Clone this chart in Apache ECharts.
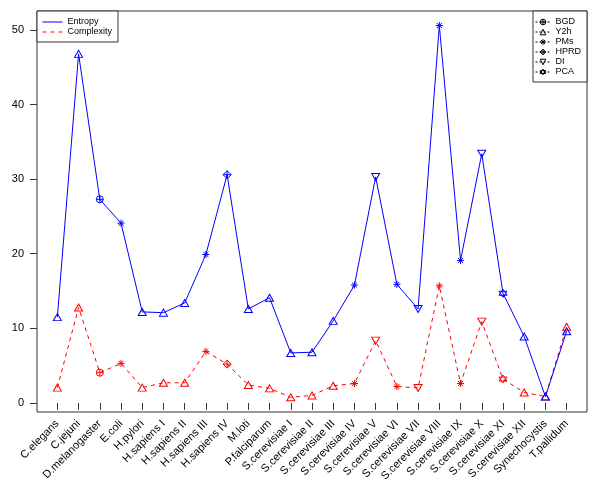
<!DOCTYPE html>
<html>
<head>
<meta charset="utf-8">
<script src="https://cdn.jsdelivr.net/npm/echarts@6/dist/echarts.min.js"></script>
<style>
html,body{margin:0;padding:0;background:#fff;}
#chart{width:600px;height:494px;}
</style>
</head>
<body>
<div id="chart"></div>
<script>
const categories = ['C.elegans','C.jejuni','D.melanogaster','E.coli','H.pylori','H.sapiens I','H.sapiens II','H.sapiens III','H.sapiens IV','M.loti','P.falciparum','S.cerevisiae I','S.cerevisiae II','S.cerevisiae III','S.cerevisiae IV','S.cerevisiae V','S.cerevisiae VI','S.cerevisiae VII','S.cerevisiae VIII','S.cerevisiae IX','S.cerevisiae X','S.cerevisiae XI','S.cerevisiae XII','Synechocystis','T.pallidum'];
const entropy = [11.5, 46.8, 27.3, 24.1, 12.2, 12.1, 13.4, 19.9, 30.6, 12.6, 14.1, 6.7, 6.8, 11.0, 15.8, 30.3, 15.9, 12.6, 50.6, 19.1, 33.4, 14.7, 8.9, 0.85, 9.6];
const complexity = [2.05, 12.8, 4.05, 5.3, 2.05, 2.7, 2.7, 6.9, 5.2, 2.4, 1.95, 0.75, 1.0, 2.3, 2.6, 8.35, 2.2, 2.0, 15.7, 2.6, 10.9, 3.2, 1.4, 0.85, 10.2];
const methods = ['Y2h','Y2h','BGD','PMs','Y2h','Y2h','Y2h','PMs','HPRD','Y2h','Y2h','Y2h','Y2h','Y2h','PMs','DI','PMs','DI','PMs','PMs','DI','PCA','Y2h','Y2h','Y2h'];
const methodNames = ['BGD','Y2h','PMs','HPRD','DI','PCA'];
const yTicks = [0, 10, 20, 30, 40, 50];

const SYM = {
  BGD: {path: 'path://M-1,0A1,1 0 1,1 1,0A1,1 0 1,1 -1,0ZM-1,0L1,0M0,-1L0,1', size: [7, 7]},
  Y2h: {path: 'path://M0,-1L0.866,0.5L-0.866,0.5Z', size: [8, 7]},
  PMs: {path: 'path://M0,-1L0,1M-1,0L1,0M-0.707,-0.707L0.707,0.707M-0.707,0.707L0.707,-0.707', size: [7, 7]},
  HPRD: {path: 'path://M0,-1L1,0L0,1L-1,0ZM-1,0L1,0M0,-1L0,1', size: [8, 8]},
  DI: {path: 'path://M0,1L0.866,-0.5L-0.866,-0.5Z', size: [8, 7]},
  PCA: {path: 'path://M0,-1L0.866,0.5L-0.866,0.5ZM0,1L0.866,-0.5L-0.866,-0.5Z', size: [8, 8]}
};

const BLUE = '#0000ff', RED = '#ff0000';
const FONT = 'Liberation Sans, Arial, Helvetica, sans-serif';
const CLEAR = 'rgba(0,0,0,0)';

function makeData(vals, color) {
  return vals.map((v, i) => ({
    value: [i + 1, v],
    symbol: SYM[methods[i]].path,
    symbolSize: SYM[methods[i]].size,
    itemStyle: {color: CLEAR, borderColor: color, borderWidth: 1}
  }));
}

const series = [
  {
    name: 'Entropy', type: 'line', data: makeData(entropy, BLUE),
    symbol: 'none', showSymbol: true,
    lineStyle: {color: BLUE, width: 1, type: 'solid'},
    itemStyle: {color: CLEAR, borderWidth: 0},
    z: 3
  },
  {
    name: 'Complexity', type: 'line', data: makeData(complexity, RED),
    symbol: 'none', showSymbol: true,
    lineStyle: {color: RED, width: 1, type: [4, 4]},
    itemStyle: {color: CLEAR, borderWidth: 0},
    z: 2
  }
];
methodNames.forEach(m => {
  series.push({
    name: m, type: 'line', data: [],
    symbol: SYM[m].path,
    color: '#000',
    lineStyle: {color: '#000', width: 1, type: [2, 2]},
    itemStyle: {color: CLEAR, borderColor: '#000', borderWidth: 1}
  });
});

const chart = echarts.init(document.getElementById('chart'), null, {renderer: 'canvas'});
chart.setOption({
  animation: false,
  backgroundColor: '#fff',
  textStyle: {fontFamily: FONT},
  grid: {left: 37, right: 13, top: 11, bottom: 82, show: true, borderColor: '#333', borderWidth: 1, backgroundColor: 'transparent'},
  xAxis: {
    type: 'value', min: 0.04, max: 25.96,
    splitLine: {show: false},
    axisLine: {show: false},
    axisTick: {show: true, length: 7, lineStyle: {color: '#333'}, customValues: categories.map((c, i) => i + 1)},
    axisLabel: {
      customValues: categories.map((c, i) => i + 1),
      rotate: 45, margin: 10, fontSize: 11, color: '#000', fontFamily: FONT,
      formatter: v => categories[Math.round(v) - 1] || ''
    }
  },
  yAxis: {
    type: 'value', min: -1.22, max: 52.55,
    splitLine: {show: false},
    axisLine: {show: false},
    axisTick: {show: true, length: 7, lineStyle: {color: '#333'}, customValues: yTicks},
    axisLabel: {customValues: yTicks, margin: 13, fontSize: 11, color: '#000', fontFamily: FONT}
  },
  legend: [
    {
      data: ['Entropy', 'Complexity'],
      orient: 'vertical', left: 37, top: 11,
      padding: [6, 6, 5, 5],
      itemWidth: 20, itemHeight: 10, itemGap: 0,
      borderColor: '#333', borderWidth: 1, backgroundColor: '#fff',
      selectedMode: false,
      itemStyle: {color: CLEAR, borderWidth: 0},
      lineStyle: {width: 1},
      textStyle: {fontSize: 9, color: '#000', fontFamily: FONT, lineHeight: 10}
    },
    {
      data: methodNames,
      orient: 'vertical', right: 13, top: 11,
      padding: [6, 6, 5, 2],
      itemWidth: 15, itemHeight: 7, itemGap: 0,
      borderColor: '#333', borderWidth: 1, backgroundColor: '#fff',
      selectedMode: false,
      itemStyle: {color: CLEAR, borderColor: '#000', borderWidth: 1},
      lineStyle: {width: 1},
      textStyle: {fontSize: 9, color: '#000', fontFamily: FONT, lineHeight: 10}
    }
  ],
  series: series
});
</script>
</body>
</html>
